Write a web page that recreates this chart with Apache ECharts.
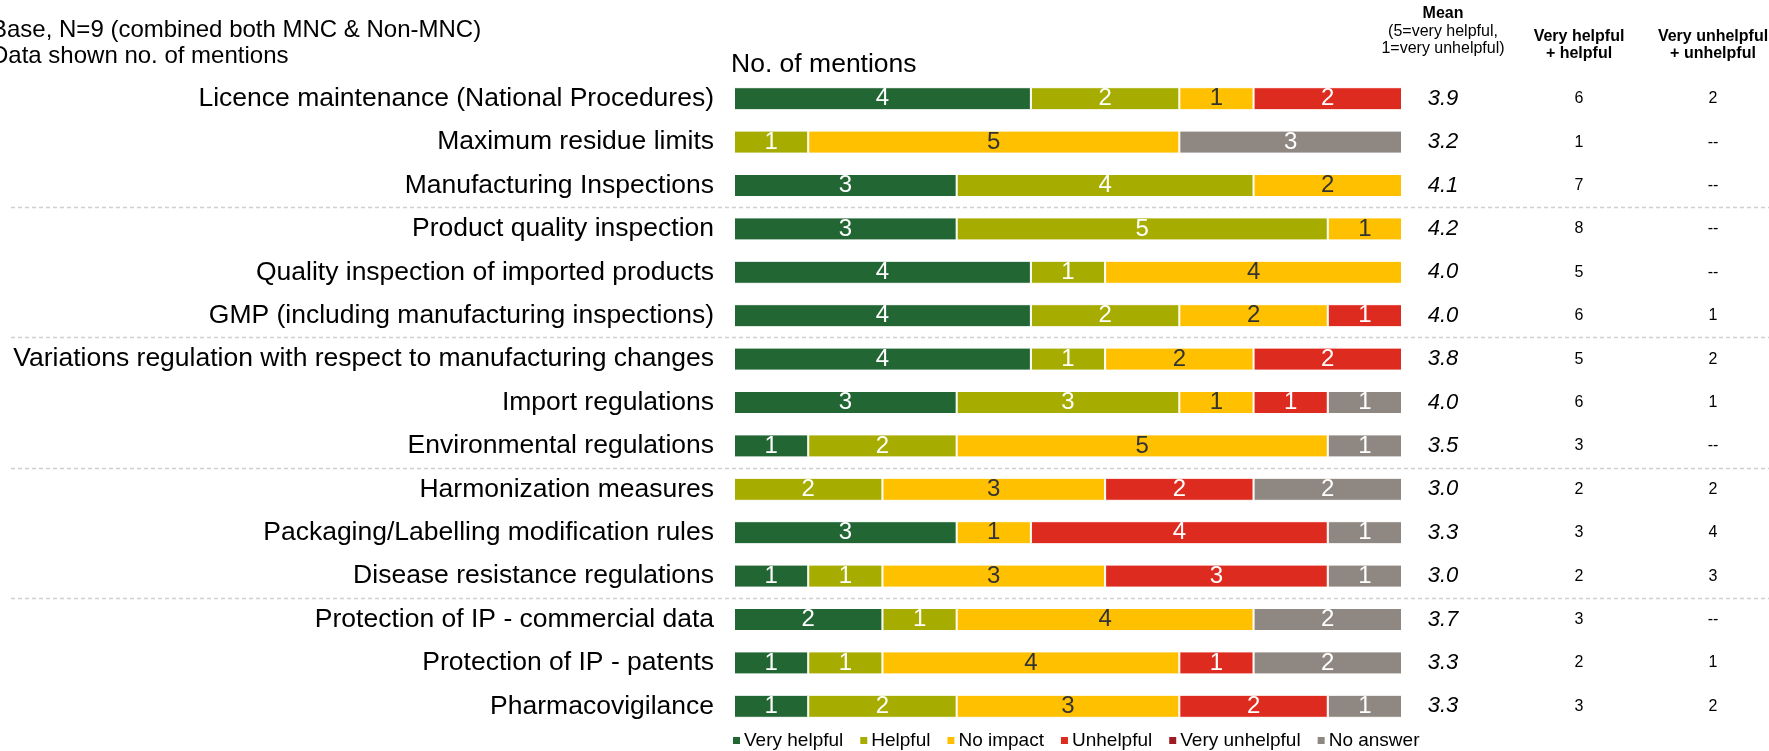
<!DOCTYPE html>
<html><head><meta charset="utf-8">
<script src="https://cdn.jsdelivr.net/npm/echarts@6/dist/echarts.min.js"></script>
<style>html,body{margin:0;padding:0;background:#fff}#c{width:1769px;height:751px}</style>
</head><body><div id="c"></div>
<script>
const categories = [
  "Licence maintenance (National Procedures)",
  "Maximum residue limits",
  "Manufacturing Inspections",
  "Product quality inspection",
  "Quality inspection of imported products",
  "GMP (including manufacturing inspections)",
  "Variations regulation with respect to manufacturing changes",
  "Import regulations",
  "Environmental regulations",
  "Harmonization measures",
  "Packaging/Labelling modification rules",
  "Disease resistance regulations",
  "Protection of IP - commercial data",
  "Protection of IP - patents",
  "Pharmacovigilance"
];
const seriesNames = ["Very helpful","Helpful","No impact","Unhelpful","Very unhelpful","No answer"];
const veryHelpful   = [4,0,3,3,4,4,4,3,1,0,3,1,2,1,1];
const helpful       = [2,1,4,5,1,2,1,3,2,2,0,1,1,1,2];
const noImpact      = [1,5,2,1,4,2,2,1,5,3,1,3,4,4,3];
const unhelpful     = [2,0,0,0,0,1,2,1,0,2,4,3,0,1,2];
const veryUnhelpful = [0,0,0,0,0,0,0,0,0,0,0,0,0,0,0];
const noAnswer      = [0,3,0,0,0,0,0,1,1,2,1,1,2,2,1];
const meanScores    = ["3.9","3.2","4.1","4.2","4.0","4.0","3.8","4.0","3.5","3.0","3.3","3.0","3.7","3.3","3.3"];
const helpfulTotals = ["6","1","7","8","5","6","5","6","3","2","3","2","3","2","3"];
const unhelpfulTotals = ["2","--","--","--","--","1","2","1","--","2","4","3","--","1","2"];
const separatorsAfter = [2,5,8,11];

const colors = ["#226634","#A6AD00","#FFC000","#DE2B1F","#9B1C22","#8F8781"];
const labelColors = ["#fff","#fff","#333","#fff","#fff","#fff"];
const values = [veryHelpful,helpful,noImpact,unhelpful,veryUnhelpful,noAnswer];

const ARIAL = "'Liberation Sans',Arial,sans-serif";

const chart = echarts.init(document.getElementById('c'), null, {renderer:'canvas'});

const series = values.map((arr,i)=>({
  name: seriesNames[i], type:'bar', stack:'total', barWidth: 23,
  data: arr.map(v=> v===0 ? null : v),
  itemStyle:{color:colors[i], borderColor:'#fff', borderWidth:1},
  label:{show:true, position:'inside', color:labelColors[i], fontFamily:ARIAL, fontSize:24,
    formatter:p=> p.value ? String(p.value) : ''},
  emphasis:{disabled:true}
}));

function rightAxis(arr, margin, style){
  return {type:'category', data:categories, inverse:true, position:'right', gridIndex:0,
    axisLine:{show:false}, axisTick:{show:false}, splitLine:{show:false},
    axisLabel:Object.assign({margin:margin, align:'center', formatter:(v,i)=>arr[i], color:'#000'}, style)};
}

const option = {
  animation:false,
  backgroundColor:'#fff',
  grid:{left:734, right:367, top:77, bottom:23, containLabel:false, outerBoundsMode:'none'},
  xAxis:{type:'value', min:0, max:9, show:false},
  yAxis:[
    {type:'category', data:categories, inverse:true,
      axisLine:{show:false}, axisTick:{show:false},
      axisLabel:{margin:20, color:'#000', fontFamily:ARIAL, fontSize:26.5}},
    rightAxis(meanScores, 41, {fontFamily:ARIAL, fontStyle:'italic', fontSize:22}),
    rightAxis(helpfulTotals, 177, {fontFamily:ARIAL, fontSize:16}),
    rightAxis(unhelpfulTotals, 311, {fontFamily:ARIAL, fontSize:16})
  ],
  legend:{top:731, left:731, padding:0, itemWidth:9, itemHeight:9, itemGap:15, icon:'rect',
    textStyle:{fontFamily:ARIAL, fontSize:19, color:'#000', padding:[0,0,0,-2]},
    data:seriesNames},
  series:series,
  graphic:[
    {type:'text', left:-9, top:18, style:{text:'Base, N=9 (combined both MNC & Non-MNC)', font:"24px "+ARIAL, fill:'#000'}},
    {type:'text', left:-9, top:44, style:{text:'Data shown no. of mentions', font:"24px "+ARIAL, fill:'#000'}},
    {type:'text', left:731, top:51, style:{text:'No. of mentions', font:"26.5px "+ARIAL, fill:'#000'}},
    {type:'text', x:1443, y:14, style:{text:'Mean', font:"bold 16px "+ARIAL, fill:'#000', align:'center', verticalAlign:'middle'}},
    {type:'text', x:1443, y:32, style:{text:'(5=very helpful,', font:"16px "+ARIAL, fill:'#000', align:'center', verticalAlign:'middle'}},
    {type:'text', x:1443, y:49, style:{text:'1=very unhelpful)', font:"16px "+ARIAL, fill:'#000', align:'center', verticalAlign:'middle'}},
    {type:'text', x:1579, y:37, style:{text:'Very helpful', font:"bold 16px "+ARIAL, fill:'#000', align:'center', verticalAlign:'middle'}},
    {type:'text', x:1579, y:54, style:{text:'+ helpful', font:"bold 16px "+ARIAL, fill:'#000', align:'center', verticalAlign:'middle'}},
    {type:'text', x:1713, y:37, style:{text:'Very unhelpful', font:"bold 16px "+ARIAL, fill:'#000', align:'center', verticalAlign:'middle'}},
    {type:'text', x:1713, y:54, style:{text:'+ unhelpful', font:"bold 16px "+ARIAL, fill:'#000', align:'center', verticalAlign:'middle'}}
  ]
};
chart.setOption(option);

// separator dashed lines between groups, positioned from the category scale
const g = option.graphic.slice();
separatorsAfter.forEach(idx=>{
  const a = chart.convertToPixel({yAxisIndex:0}, categories[idx]);
  const b = chart.convertToPixel({yAxisIndex:0}, categories[idx+1]);
  const y = Math.round((a+b)/2)+0.5;
  g.push({type:'line', shape:{x1:11, y1:y, x2:1769, y2:y}, silent:true,
    style:{stroke:'#cfcfcf', lineWidth:1.5, lineDash:[4,3]}});
});
chart.setOption({graphic:g});
</script></body></html>
